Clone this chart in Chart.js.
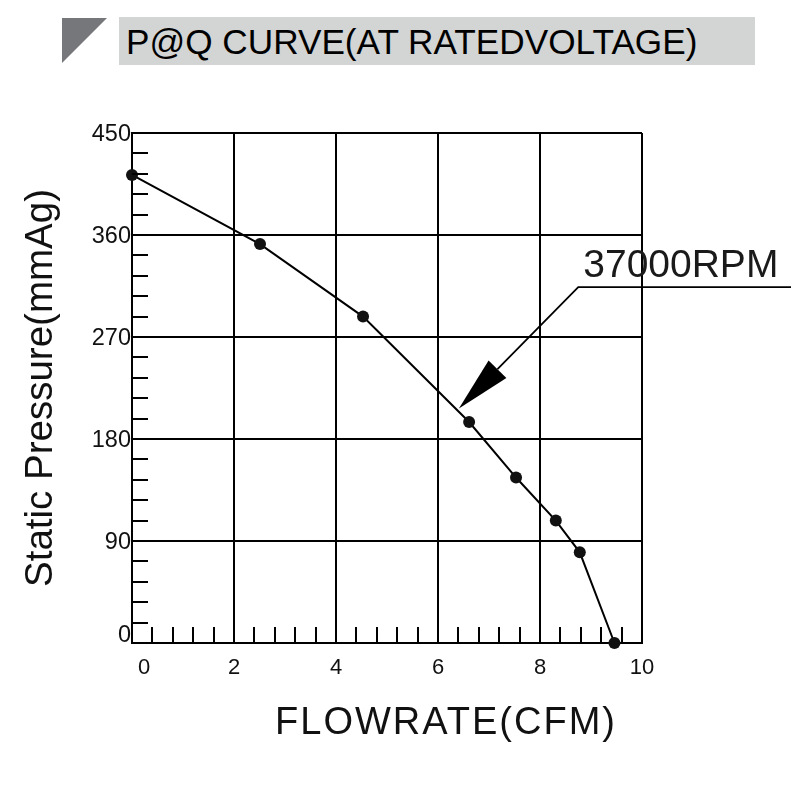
<!DOCTYPE html>
<html>
<head>
<meta charset="utf-8">
<title>P@Q curve</title>
<script src="https://cdn.jsdelivr.net/npm/chart.js@4.4.1/dist/chart.umd.min.js"></script>
<style>
  html, body { margin: 0; padding: 0; background: #fff; }
  #wrap { position: relative; width: 811px; height: 791px; overflow: hidden; }
  #tri {
    position: absolute; left: 62px; top: 18px; width: 45px; height: 45px;
    background: #76777a; clip-path: polygon(0 0, 100% 0, 0 100%);
  }
  #head {
    position: absolute; left: 119px; top: 17px; width: 636px; height: 48px;
    background: #d3d4d4;
  }
  #head span {
    position: absolute; left: 7px; top: 7px; line-height: 35px;
    font-size: 35.2px; font-family: "Liberation Sans", Arial, sans-serif;
    color: #000; white-space: nowrap;
  }
  #chart { position: absolute; left: 0; top: 0; }
</style>
</head>
<body>
<div id="wrap">
  <canvas id="chart" width="811" height="791"></canvas>
  <div id="tri"></div>
  <div id="head"><span>P@Q CURVE(AT RATEDVOLTAGE)</span></div>
</div>
<script>
// valori
const flowrate = [0, 2.51, 4.53, 6.61, 7.53, 8.31, 8.78, 9.46];
const pressure = [413, 352, 288, 195, 146, 108, 80, 0];

const xTicks = [0, 2, 4, 6, 8, 10];
const yTicks = [0, 90, 180, 270, 360, 450];
const xMinorStep = 0.4;
const yMinorStep = 18;

const xTitle = 'FLOWRATE(CFM)';
const yTitle = 'Static Pressure(mmAg)';
const rpmLabel = '37000RPM';
// freccia: punta e gomito, in unita' del grafico
const arrowTip = [6.41, 207];
const arrowElbow = [8.75, 314];

const FONT = '"Liberation Sans", Arial, sans-serif';

// tacche minori, freccia e titolo asse x
const extras = {
  id: 'extras',
  afterDraw(chart) {
    const { ctx, chartArea: a, scales: { x, y } } = chart;
    ctx.save();
    ctx.strokeStyle = '#000';
    ctx.lineWidth = 2;

    // tacche minori interne
    const nY = Math.round((yTicks[yTicks.length - 1] - yTicks[0]) / yMinorStep);
    for (let i = 1; i < nY; i++) {
      if (i % 5 === 0) continue;
      const py = Math.round(y.getPixelForValue(i * yMinorStep));
      ctx.beginPath();
      ctx.moveTo(a.left, py);
      ctx.lineTo(a.left + 16, py);
      ctx.stroke();
    }
    const nX = Math.round((xTicks[xTicks.length - 1] - xTicks[0]) / xMinorStep);
    for (let i = 1; i < nX; i++) {
      if (i % 5 === 0) continue;
      const px = Math.round(x.getPixelForValue(i * xMinorStep));
      ctx.beginPath();
      ctx.moveTo(px, a.bottom);
      ctx.lineTo(px, a.bottom - 16);
      ctx.stroke();
    }

    // freccia 37000RPM
    const tx = x.getPixelForValue(arrowTip[0]), ty = y.getPixelForValue(arrowTip[1]);
    const ex = x.getPixelForValue(arrowElbow[0]), ey = y.getPixelForValue(arrowElbow[1]);
    const dx = ex - tx, dy = ey - ty;
    const len = Math.hypot(dx, dy);
    const ux = dx / len, uy = dy / len;
    const headLen = 55, half = 12.5;
    const bx = tx + ux * headLen, by = ty + uy * headLen;

    ctx.lineWidth = 1.8;
    ctx.beginPath();
    ctx.moveTo(chart.width - 20, ey);
    ctx.lineTo(ex, ey);
    ctx.lineTo(bx, by);
    ctx.stroke();

    ctx.fillStyle = '#000';
    ctx.beginPath();
    ctx.moveTo(tx, ty);
    ctx.lineTo(bx - uy * half, by + ux * half);
    ctx.lineTo(bx + uy * half, by - ux * half);
    ctx.closePath();
    ctx.fill();

    ctx.fillStyle = '#1a1a1a';
    ctx.font = '39px ' + FONT;
    ctx.textAlign = 'left';
    ctx.textBaseline = 'alphabetic';
    ctx.fillText(rpmLabel, ex + 5, ey - 10);

    // titolo asse x
    ctx.fillStyle = '#111';
    ctx.font = '38px ' + FONT;
    ctx.letterSpacing = '2px';
    ctx.textAlign = 'center';
    ctx.fillText(xTitle, 446, 734);
    ctx.restore();
  }
};

new Chart(document.getElementById('chart'), {
  type: 'line',
  data: {
    datasets: [{
      data: flowrate.map((v, i) => ({ x: v, y: pressure[i] })),
      borderColor: '#000',
      borderWidth: 2,
      pointRadius: 6,
      pointBackgroundColor: '#111',
      pointBorderColor: '#111',
      pointBorderWidth: 0,
      tension: 0,
      clip: false
    }]
  },
  options: {
    responsive: false,
    animation: false,
    layout: { padding: { top: 133, right: 169, left: 0, bottom: 0 } },
    plugins: {
      legend: { display: false },
      tooltip: { enabled: false }
    },
    scales: {
      x: {
        type: 'linear',
        min: xTicks[0],
        max: xTicks[xTicks.length - 1],
        afterBuildTicks: s => { s.ticks = xTicks.map(v => ({ value: v })); },
        ticks: {
          padding: 12,
          color: '#111',
          maxRotation: 0,
          font: { family: FONT, size: 22 },
          callback: v => (v === 0 ? '    0' : String(v))
        },
        grid: { color: '#000', lineWidth: 2, drawTicks: false },
        border: { color: '#000', width: 2 },
        afterFit: s => { s.height = 148; }
      },
      y: {
        type: 'linear',
        min: yTicks[0],
        max: yTicks[yTicks.length - 1],
        afterBuildTicks: s => { s.ticks = yTicks.map(v => ({ value: v })); },
        ticks: {
          padding: 1,
          labelOffset: 2,
          color: '#111',
          font: { family: FONT, size: 23.5, lineHeight: 0.78 },
          callback: v => (v === 0 ? ['0', ''] : String(v))
        },
        grid: { color: '#000', lineWidth: 2, drawTicks: false },
        border: { color: '#000', width: 2 },
        title: {
          display: true,
          text: yTitle,
          color: '#111',
          font: { family: FONT, size: 38.5 },
          padding: { top: 18, bottom: 0 }
        },
        afterFit: s => { s.width = 132; }
      }
    }
  },
  plugins: [extras]
});
</script>
</body>
</html>
